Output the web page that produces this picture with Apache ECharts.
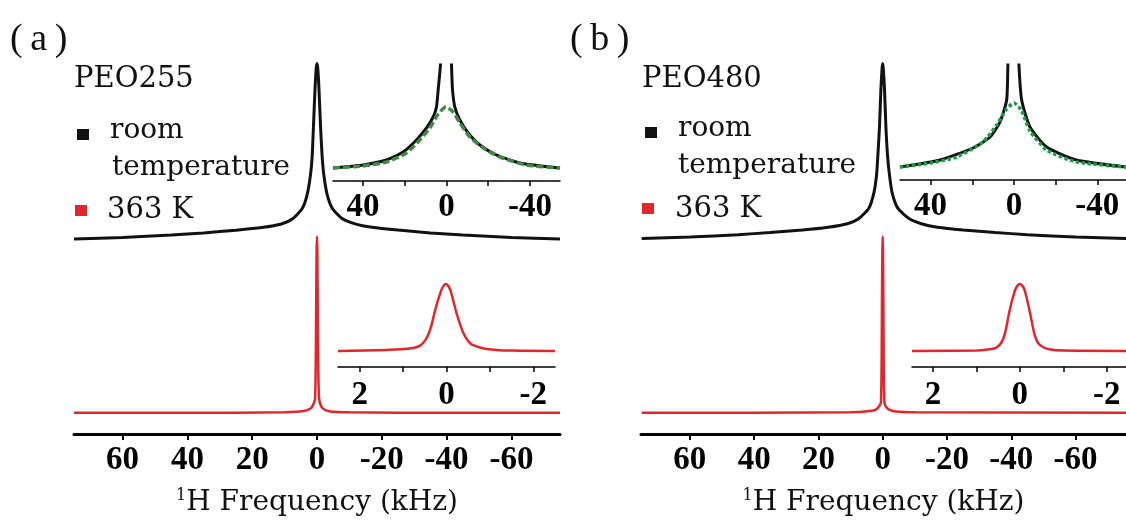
<!DOCTYPE html>
<html lang="en">
<head>
<meta charset="UTF-8">
<title>PEO 1H spectra</title>
<script src="https://cdn.jsdelivr.net/npm/echarts@6.0.0/dist/echarts.min.js"></script>
<style>
    html, body {margin: 0; padding: 0; background: #fff;}
    #chart {width: 1126px; height: 521px;}
</style>
</head>
<body>
<div id="chart"></div>
<script>
    // main spectra, [frequency kHz, intensity / peak]
    var peo255RT = [[75,0.005],[60,0.014],[45,0.028],[35,0.04],[25,0.055],[17,0.07],[11,0.09],[7.5,0.12],[4.5,0.18],[3,0.26],[2,0.37],[1.5,0.47],[1.1,0.64],[0.6,0.86],[0.25,0.97],[0,1],
        [-0.25,0.97],[-0.6,0.86],[-1.1,0.64],[-1.6,0.47],[-2.1,0.37],[-3.1,0.26],[-4.7,0.18],[-7.5,0.125],[-12,0.09],[-17,0.072],[-25,0.056],[-35,0.04],[-45,0.028],[-60,0.014],[-75,0.005]]
    var peo255Hot = [[75,0],[40,0],[10,0.003],[4,0.01],[2,0.025],[1.2,0.045],[0.6,0.08],[0.38,0.3],[0.24,0.65],[0.12,0.92],[0,1],
        [-0.1,0.92],[-0.23,0.58],[-0.38,0.28],[-0.6,0.09],[-1.2,0.04],[-2,0.022],[-4,0.008],[-10,0.003],[-40,0],[-75,0]]
    var peo480RT = [[75,0.008],[60,0.016],[45,0.03],[35,0.042],[25,0.056],[17,0.072],[11,0.092],[7.5,0.12],[4.3,0.18],[2.7,0.27],[1.9,0.37],[1.5,0.48],[1.0,0.64],[0.55,0.86],[0.2,0.97],[0,1],
        [-0.2,0.97],[-0.55,0.86],[-1.0,0.64],[-1.5,0.48],[-2.1,0.37],[-2.9,0.27],[-4.7,0.18],[-8.3,0.12],[-12,0.092],[-17,0.072],[-25,0.056],[-35,0.042],[-45,0.03],[-60,0.016],[-76,0.008]]
    var peo480Hot = [[75,0],[10,0.003],[4,0.01],[2,0.02],[1,0.04],[0.54,0.06],[0.34,0.27],[0.23,0.62],[0.11,0.91],[0,1],
        [-0.11,0.91],[-0.23,0.58],[-0.34,0.24],[-0.54,0.06],[-1,0.035],[-2,0.018],[-4,0.008],[-10,0.003],[-76,0]]

    // insets
    var peo255RTWide = [[54.4,0],[40,0.03],[28.8,0.08],[20.8,0.16],[14.4,0.28],[9.6,0.4],[6.4,0.51],[4.8,0.61],[4.0,0.78],[2.9,1.03],[2.2,1.4],[0,2.0],
        [-2.0,1.4],[-2.4,1.03],[-2.9,0.78],[-4.0,0.61],[-6.4,0.48],[-10.4,0.35],[-16,0.23],[-24,0.13],[-35.2,0.05],[-54.4,0]]
    var peo255FitWide = [[54.4,0],[40,0.02],[28.8,0.06],[19.2,0.15],[12.8,0.28],[8.0,0.4],[4.0,0.54],[0.3,0.61],
        [-3.2,0.56],[-6.4,0.45],[-11.2,0.31],[-17.6,0.2],[-25.6,0.11],[-38.4,0.03],[-54.4,0]]
    var peo255HotNarrow = [[2.5,0],[1.38,0.015],[0.8,0.04],[0.62,0.075],[0.48,0.17],[0.38,0.31],[0.24,0.66],[0.12,0.91],[0.06,0.98],[0.02,1.0],
        [-0.03,0.98],[-0.09,0.91],[-0.23,0.57],[-0.38,0.28],[-0.5,0.15],[-0.6,0.09],[-0.92,0.03],[-1.5,0.005],[-2.5,0]]
    var peo480RTWide = [[54.7,0],[35.5,0.07],[19.7,0.19],[11.5,0.3],[6.7,0.45],[3.5,0.67],[2.9,1.02],[2.2,1.4],[0,2.0],
        [-1.9,1.4],[-2.4,1.02],[-3.7,0.67],[-7.7,0.4],[-15.7,0.2],[-30,0.07],[-53.8,0]]
    var peo480FitWide = [[54.7,0],[40,0.04],[27.5,0.1],[14.9,0.25],[8.3,0.42],[3.5,0.58],[0,0.64],
        [-3.5,0.57],[-7.7,0.36],[-15.7,0.17],[-30,0.05],[-53.8,0]]
    var peo480HotNarrow = [[2.48,0],[1.0,0.005],[0.7,0.025],[0.54,0.05],[0.42,0.13],[0.34,0.27],[0.23,0.62],[0.11,0.91],[0.05,0.98],[0,1],
        [-0.05,0.98],[-0.11,0.91],[-0.23,0.58],[-0.34,0.24],[-0.42,0.12],[-0.54,0.055],[-0.7,0.02],[-1.0,0.005],[-2.44,0]]

    var mainTicks = [60, 40, 20, 0, -20, -40, -60]
    var wideTicks = [40, 20, 0, -20, -40]
    var wideLabels = [40, 0, -40]
    var narrowTicks = [2, 1, 0, -1, -2]
    var narrowLabels = [2, 0, -2]

    var rtOffset = 0.98   // room temperature trace sits above the 363 K one
    var black = '#111111', red = '#e3262b'

    function shift(arr, d) {
        var out = []
        for (var i = 0; i < arr.length; i++) out.push([arr[i][0], arr[i][1] + d])
        return out
    }

    var numFont = {color: '#000', fontFamily: 'Liberation Serif', fontWeight: 'bold', fontSize: 33}

    function mainX(idx, min, max) {
        return {
            gridIndex: idx, type: 'value', min: min, max: max, inverse: true,
            axisLine: {onZero: false, lineStyle: {color: '#000', width: 3}},
            axisTick: {customValues: mainTicks, length: 6, lineStyle: {color: '#000', width: 2}},
            axisLabel: Object.assign({customValues: mainTicks, margin: 10}, numFont),
            splitLine: {show: false},
            name: '{s|1}{t|H Frequency (kHz)}', nameLocation: 'middle', nameGap: 54,
            nameTextStyle: {
                rich: {
                    s: {fontSize: 16, fontFamily: 'DejaVu Serif', color: '#111', verticalAlign: 'top', lineHeight: 30},
                    t: {fontSize: 28, fontFamily: 'DejaVu Serif', color: '#111', lineHeight: 30}
                }
            }
        }
    }
    function insetX(idx, min, max, ticks, labels, margin) {
        return {
            gridIndex: idx, type: 'value', min: min, max: max, inverse: true,
            axisLine: {onZero: false, lineStyle: {color: '#000', width: 1.5}},
            axisTick: {customValues: ticks, length: 5, lineStyle: {color: '#000', width: 1.5}},
            axisLabel: Object.assign({customValues: labels, margin: margin}, numFont),
            splitLine: {show: false}
        }
    }
    function hiddenY(idx, min, max) {
        return {gridIndex: idx, type: 'value', min: min, max: max, show: false}
    }
    function trace(idx, data, color, width, type, smooth) {
        return {
            type: 'line', xAxisIndex: idx, yAxisIndex: idx, data: data,
            symbol: 'none', smooth: smooth || 0.2, clip: true,
            lineStyle: {color: color, width: width, type: type || 'solid'}
        }
    }

    var myChart = echarts.init(document.getElementById('chart'))

    var txt = function (text, x, y, size, color, font) {
        return {
            type: 'text', style: {
                text: text, x: x, y: y, fill: color || '#111',
                font: size + 'px "' + (font || 'DejaVu Serif') + '"', textVerticalAlign: 'middle'
            }
        }
    }
    var sq = function (x, y, color) {
        return {type: 'rect', shape: {x: x, y: y, width: 12, height: 11}, style: {fill: color}}
    }

    myChart.setOption({
        animation: false,
        grid: [
            {left: 74, top: 60, width: 486, height: 374, outerBoundsMode: 'none'},
            {left: 333, top: 65, width: 227, height: 116, outerBoundsMode: 'none'},
            {left: 338, top: 270, width: 217, height: 97, outerBoundsMode: 'none'},
            {left: 641, top: 60, width: 485, height: 374, outerBoundsMode: 'none'},
            {left: 900, top: 65, width: 226, height: 115, outerBoundsMode: 'none'},
            {left: 912, top: 270, width: 214, height: 97, outerBoundsMode: 'none'}
        ],
        xAxis: [
            mainX(0, -75, 75),
            insetX(1, -54.4, 54.4, wideTicks, wideLabels, 10),
            insetX(2, -2.5, 2.5, narrowTicks, narrowLabels, 12),
            mainX(3, -75.7, 75.2),
            insetX(4, -53.8, 54.7, wideTicks, wideLabels, 10),
            insetX(5, -2.44, 2.48, narrowTicks, narrowLabels, 12)
        ],
        yAxis: [
            hiddenY(0, -0.12, 2.0),
            hiddenY(1, -0.13, 1.03),
            hiddenY(2, -0.24, 1.21),
            hiddenY(3, -0.12, 2.0),
            hiddenY(4, -0.13, 1.02),
            hiddenY(5, -0.24, 1.21)
        ],
        series: [
            trace(0, shift(peo255RT, rtOffset), black, 3),
            trace(0, peo255Hot, red, 2.5),
            trace(1, peo255RTWide, black, 3),
            trace(1, peo255FitWide, '#3f8a45', 3.5, [7, 3]),
            trace(2, peo255HotNarrow, red, 2.5, null, 0.4),
            trace(3, shift(peo480RT, rtOffset), black, 3),
            trace(3, peo480Hot, red, 2.5),
            trace(4, peo480RTWide, black, 3),
            trace(4, peo480FitWide, '#1d9e48', 3.5, [3.5, 2.5]),
            trace(5, peo480HotNarrow, red, 2.5, null, 0.4)
        ],
        graphic: [
            txt('(\u2009a\u2009)', 10, 40, 38, '#111', 'Liberation Serif'),
            txt('PEO255', 74, 79, 29),
            sq(77, 129, black),
            txt('room', 110, 131, 28),
            txt('temperature', 112, 168, 28),
            sq(75, 205, red),
            txt('363 K', 107, 210, 29),

            txt('(\u2009b\u2009)', 570, 40, 38, '#111', 'Liberation Serif'),
            txt('PEO480', 642, 79, 29),
            sq(645, 127, black),
            txt('room', 678, 129, 28),
            txt('temperature', 678, 166, 28),
            sq(642, 203, red),
            txt('363 K', 675, 209, 29)
        ]
    })
</script>
</body>
</html>
